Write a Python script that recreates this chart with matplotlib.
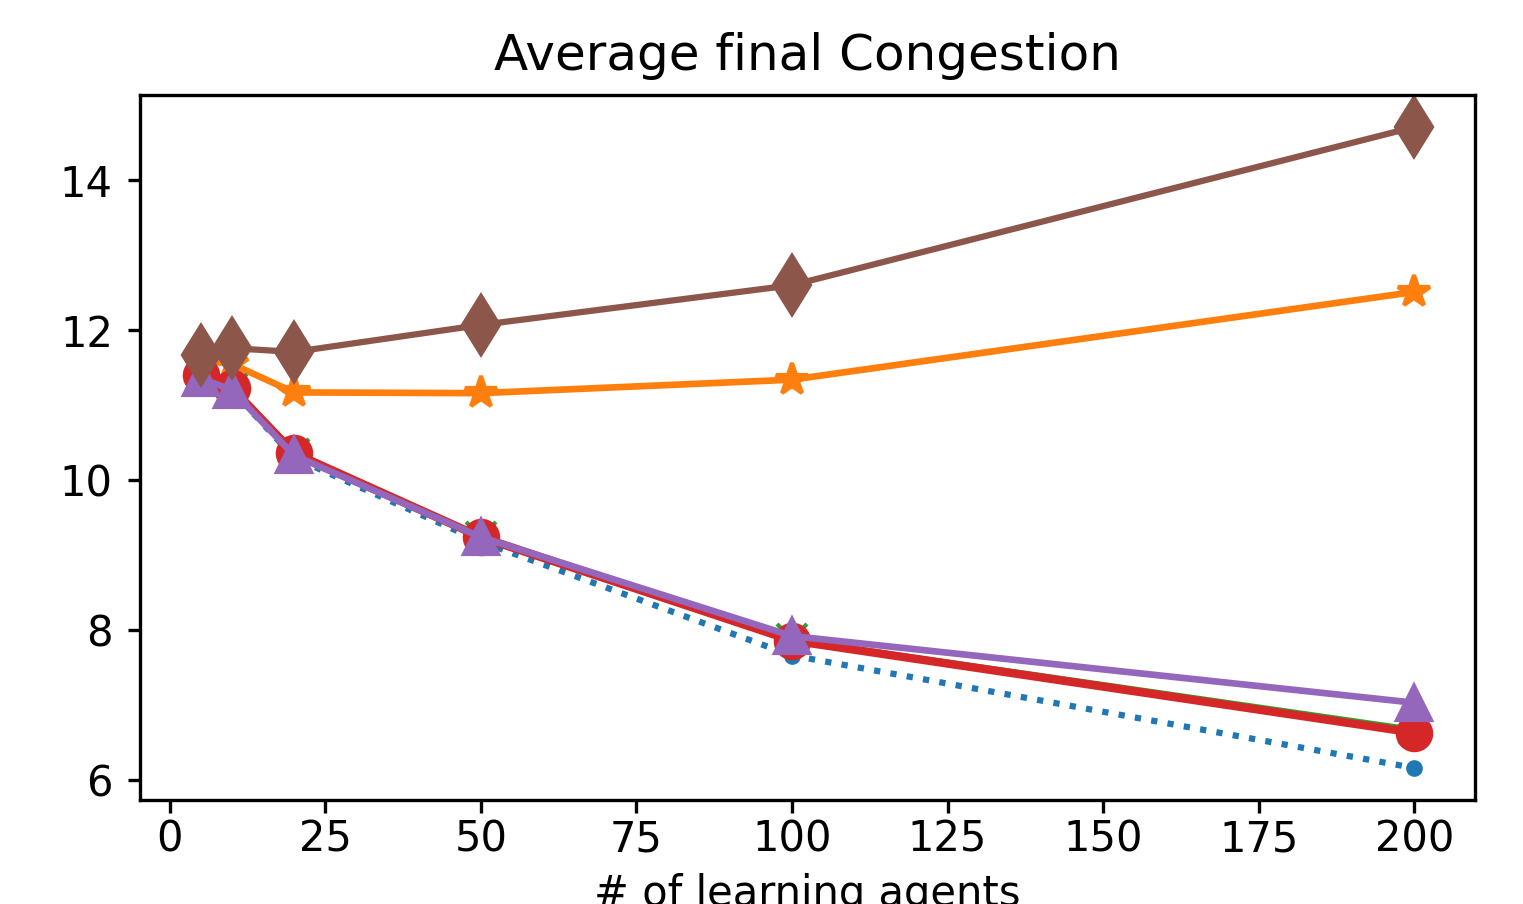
import matplotlib
matplotlib.use("Agg")
import matplotlib.pyplot as plt

agents = [5, 10, 20, 50, 100, 200]

blue_vals = [11.38, 11.20, 10.30, 9.18, 7.66, 6.16]
orange_vals = [11.60, 11.55, 11.17, 11.16, 11.34, 12.51]
green_vals = [11.40, 11.22, 10.35, 9.24, 7.88, 6.68]
red_vals = [11.40, 11.23, 10.36, 9.24, 7.86, 6.63]
purple_vals = [11.36, 11.20, 10.33, 9.24, 7.92, 7.03]
brown_vals = [11.67, 11.76, 11.71, 12.07, 12.60, 14.71]

fig = plt.figure(figsize=(1523 / 300, 904 / 300), dpi=300)
ax = fig.add_axes([140 / 1523, 1 - 800 / 904, (1475 - 140) / 1523, (800 - 95) / 904])

ax.plot(agents, blue_vals, color='C0', linestyle=':', marker='.', lw=1.5)
ax.plot(agents, orange_vals, color='C1', marker='*', ms=8, lw=1.6)
ax.plot(agents, green_vals, color='C2', marker='x', ms=7, lw=1.0)
ax.plot(agents, red_vals, color='C3', marker='o', ms=8, lw=2.0)
ax.plot(agents, purple_vals, color='C4', marker='^', ms=8, lw=1.6)
ax.plot(agents, brown_vals, color='C5', marker='d', ms=10, lw=1.5)

ax.set_title('Average final Congestion', fontsize=12)
ax.set_xlabel('# of learning agents', fontsize=10, labelpad=3)
ax.tick_params(labelsize=10, length=3)
ax.tick_params(axis='x', pad=1.5)

fig.savefig('out.png', dpi=300)
